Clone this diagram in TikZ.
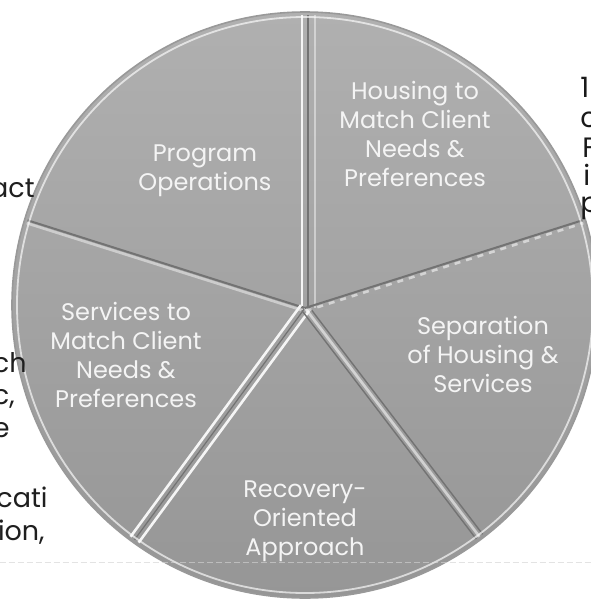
\documentclass[tikz,border=0pt]{standalone}
\usepackage{fontspec}
\setmainfont{Poppins}
\definecolor{pietop}{HTML}{B0B0B0}
\definecolor{piebottom}{HTML}{969696}
\definecolor{piewhite}{HTML}{F4F4F4}
\begin{document}
\begin{tikzpicture}[x=0.5pt,y=0.5pt,
    pielabel/.style={text=piewhite, align=center, font=\fontsize{12}{14.5}\selectfont},
    leftfrag/.style={anchor=base east, inner sep=0pt, text=black!88, font=\fontsize{13.5}{16}\selectfont},
    rightfrag/.style={anchor=base west, inner sep=0pt, text=black!90, font=\fontsize{14}{16}\selectfont},
    darkgroove/.style={draw=black!55, line width=1pt},
    lightgroove/.style={draw=white!92!gray, line width=1.3pt},
    scanline/.style={draw=gray!22, line width=0.5pt, dash pattern=on 3pt off 1.5pt}]
    \path[clip] (-305,-297) rectangle (286,305);
    \fill[white] (-305,-297) rectangle (286,305);
    % scan line under the pie
    \draw[scanline] (-305,-257) -- (286,-257);
    % the pie
    \shade[top color=pietop, bottom color=piebottom] (0,0) circle (293);
    \begin{scope}
        \clip (0,0) circle (290);
        % grooves between slices
        \draw[lightgroove, shift={(180:3)}] (0,-3) -- (90:300);
        \draw[darkgroove, shift={(0:3)}] (0,-3) -- (90:300);
        \draw[lightgroove, opacity=0.5, shift={(0:10)}] (0,-3) -- (90:300);
        \draw[darkgroove] (0,-3) -- (163:300);
        \draw[lightgroove, opacity=0.5, shift={(253:3)}] (0,-3) -- (163:300);
        \draw[lightgroove, shift={(144:5)}] (0,-3) -- (234:300);
        \draw[darkgroove, line width=0.6pt] (0,-3) -- (234:300);
        \draw[lightgroove, shift={(324:5)}] (0,-3) -- (234:300);
        \draw[darkgroove, line width=0.7pt, shift={(37:4)}] (0,-3) -- (307:300);
        \draw[lightgroove, opacity=0.6] (0,-3) -- (307:300);
        \draw[darkgroove, line width=0.7pt, shift={(217:4)}] (0,-3) -- (307:300);
        \draw[darkgroove] (0,-3) -- (17:300);
        \draw[lightgroove, opacity=0.6, dashed, shift={(287:3)}] (0,-3) -- (17:300);
    \end{scope}
    \draw[white, opacity=0.65, line width=0.9pt] (0,0) circle (288);
    \draw[black!40, line width=0.8pt] (0,0) circle (293);
    \draw[scanline, opacity=0.5] (-305,-257) -- (286,-257);
    % slice labels
    \node[pielabel] (ops) at (-100,134) {Program\\Operations};
    \node[pielabel] (housing) at (110,171) {Housing to\\Match Client\\Needs \&\\Preferences};
    \node[pielabel] (separation) at (178,-49) {Separation\\of Housing \&\\Services};
    \node[pielabel] (recovery) at (0,-216) {Recovery-\\Oriented\\Approach};
    \node[pielabel] (services) at (-179,-50) {Services to\\Match Client\\Needs \&\\Preferences};
    % page text cut by the picture
    \node[leftfrag] (fragact) at (-270,108) {act};
    \node[leftfrag] (fragch) at (-278,-67) {ch};
    \node[leftfrag] (fragc) at (-290,-99) {c,};
    \node[leftfrag] (frage) at (-295,-132) {e};
    \node[leftfrag] (fragcati) at (-257,-202) {cati};
    \node[leftfrag] (fragion) at (-260,-235) {ion,};
    \node[rightfrag] (fragone) at (275,208) {1};
    \node[rightfrag] (fragtwo) at (275,178) {c};
    \node[rightfrag] (fragthree) at (277,148) {F};
    \node[rightfrag] (fragfour) at (278,120) {i};
    \node[rightfrag] (fragfive) at (275,93) {p};
\end{tikzpicture}
\end{document}
